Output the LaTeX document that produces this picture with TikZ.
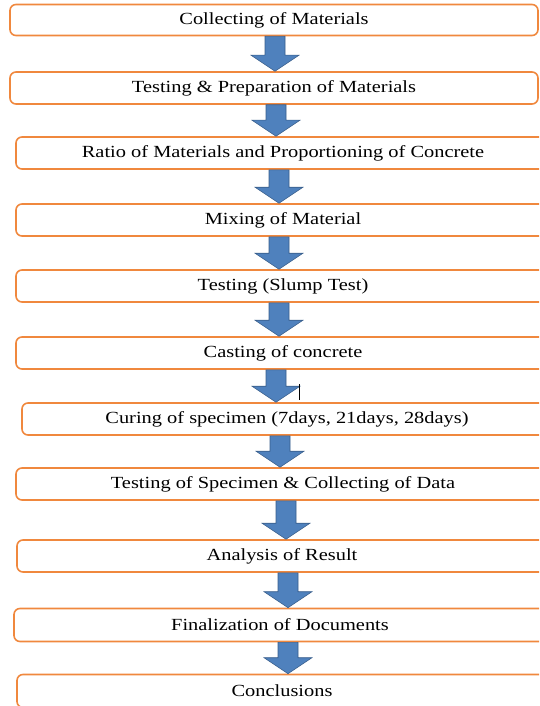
\documentclass[tikz,border=0pt]{standalone}
\usepackage{fontspec}
\newfontfamily\stagefont[FakeStretch=1.2]{Liberation Serif}
\usetikzlibrary{calc}
\definecolor{stageorange}{RGB}{240,136,62}
\definecolor{flowblue}{RGB}{79,129,189}
\definecolor{flowedge}{RGB}{56,93,138}
\tikzset{
  stage/.style={draw=stageorange, line width=1.6pt, rounded corners=6pt, fill=white,
    minimum height=31pt, inner sep=0pt, font=\stagefont\fontsize{17}{20}\selectfont},
  flow/.style={fill=flowblue, draw=flowedge, line width=0.6pt},
}
% fleche pleine entre deux etapes, a l'abscisse #3
\newcommand{\flowarrow}[3]{%
  \path[flow] let \p1=(#1.south), \p2=(#2.north) in
    (#3pt-10pt,\y1) -- (#3pt+10pt,\y1) -- (#3pt+10pt,\y2+16pt) -- (#3pt+24pt,\y2+16pt)
    -- (#3pt,\y2) -- (#3pt-24pt,\y2+16pt) -- (#3pt-10pt,\y2+16pt) -- cycle;}
\begin{document}
\begin{tikzpicture}[x=1pt,y=-1pt]
		\useasboundingbox (0,0) rectangle (539,706);
		\clip (0,0) rectangle (539,706);
		%Etapes du diagramme
		\node[stage, minimum width=528pt] (S1) at (274,20) {Collecting of Materials};
		\node[stage, minimum width=528pt, minimum height=32pt] (S2) at (274,88) {Testing \& Preparation of Materials};
		\node[stage, minimum width=534pt, minimum height=32pt] (S3) at (283,153) {Ratio of Materials and Proportioning of Concrete};
		\node[stage, minimum width=534pt, minimum height=32pt] (S4) at (283,220) {Mixing of Material};
		\node[stage, minimum width=534pt, minimum height=32pt] (S5) at (283,286) {Testing (Slump Test)};
		\node[stage, minimum width=534pt, minimum height=32pt] (S6) at (283,353) {Casting of concrete};
		\node[stage, minimum width=530pt, minimum height=32pt] (S7) at (287,419) {Curing of specimen (7days, 21days, 28days)};
		\node[stage, minimum width=534pt, minimum height=32pt] (S8) at (283,484) {Testing of Specimen \& Collecting of Data};
		\node[stage, minimum width=530pt, minimum height=32pt] (S9) at (282,556) {Analysis of Result};
		\node[stage, minimum width=532pt, minimum height=33pt] (S10) at (280,625) {Finalization of Documents};
		\node[stage, minimum width=530pt, minimum height=33pt] (S11) at (282,691) {Conclusions};
		%Fleches entre les etapes
		\flowarrow{S1}{S2}{275}
		\flowarrow{S2}{S3}{276}
		\flowarrow{S3}{S4}{279}
		\flowarrow{S4}{S5}{279}
		\flowarrow{S5}{S6}{279}
		\flowarrow{S6}{S7}{276}
		\flowarrow{S7}{S8}{280}
		\flowarrow{S8}{S9}{286}
		\flowarrow{S9}{S10}{288}
		\flowarrow{S10}{S11}{288}
		%Curseur
		\draw[line width=0.8pt] (299,384) -- (299,400);
	\end{tikzpicture}
\end{document}
